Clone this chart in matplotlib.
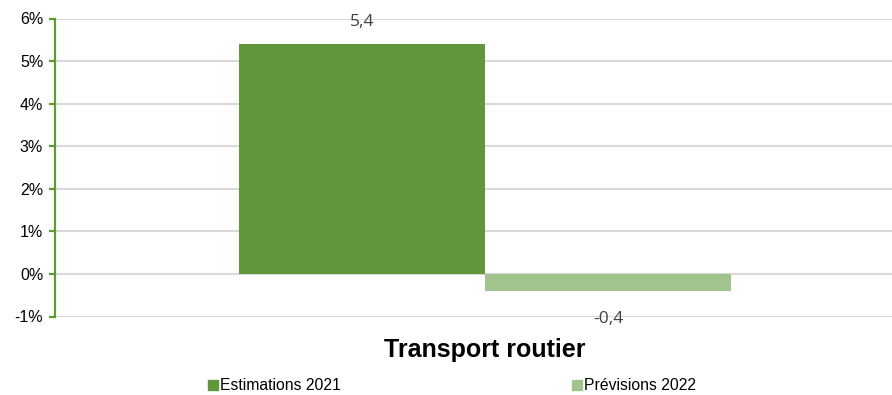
import matplotlib
matplotlib.use("Agg")
import matplotlib.pyplot as plt
from matplotlib.patches import Patch

plt.rcParams['font.family'] = ['Liberation Sans', 'DejaVu Sans']

category = "Transport routier"
series_names = ["Estimations 2021", "Prévisions 2022"]
values = [5.4, -0.4]
value_labels = ["5,4", "-0,4"]
colors = ["#62963c", "#a0c48b"]
yticks = [-1, 0, 1, 2, 3, 4, 5, 6]
ytick_labels = ["-1%", "0%", "1%", "2%", "3%", "4%", "5%", "6%"]

W, H = 892, 395
fig = plt.figure(figsize=(W / 100, H / 100), dpi=100)
ax = fig.add_axes([55 / W, 1 - 316.5 / H, (W - 55) / W, (316.5 - 18.5) / H])

bw = 1.0
offsets = [-bw / 2, bw / 2]
for v, off, c, lab in zip(values, offsets, colors, value_labels):
    ax.bar(off, v, width=bw, color=c, zorder=3)
    dy = 16 if v >= 0 else -20.5
    ax.annotate(lab, (off, v), xytext=(0, dy), textcoords="offset points",
                ha="center", va="center", fontsize=12.5, color="#404040",
                family=["Open Sans", "DejaVu Sans"])

ax.set_xlim(-430 / 246, 407 / 246)
ax.set_ylim(-1, 6)
ax.set_yticks(yticks)
ax.set_yticklabels(ytick_labels, fontsize=11.5)
ax.set_xticks([])
ax.yaxis.grid(True, color="#d9d9d9", linewidth=1.5, zorder=0)
for s in ["top", "right", "bottom"]:
    ax.spines[s].set_visible(False)
ax.spines["left"].set_color("#5c9c34")
ax.spines["left"].set_linewidth(1.6)
ax.tick_params(axis="y", color="#5c9c34", width=1.6, length=4.5, pad=4)

fig.text(485 / W, 1 - 350 / H, category, ha="center", va="center",
         fontsize=18, fontweight="bold", color="black")

legend_x = [208, 572]
for name, c, x in zip(series_names, colors, legend_x):
    fig.legend(handles=[Patch(color=c, label=name)], loc="center left",
               bbox_to_anchor=(x / W, 1 - 386 / H), frameon=False,
               handlelength=0.65, handleheight=0.65, handletextpad=0.12,
               borderpad=0, borderaxespad=0, fontsize=11.3)

fig.savefig("out.png", dpi=100)
